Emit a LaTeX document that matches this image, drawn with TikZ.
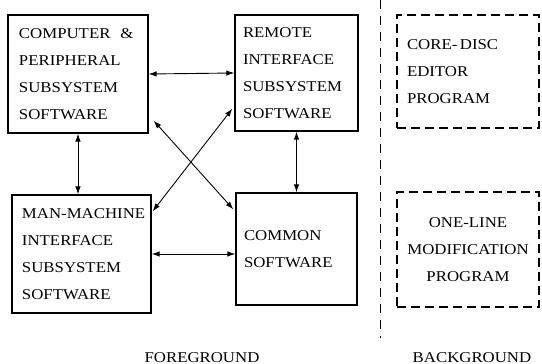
\documentclass[tikz,border=0pt]{standalone}
\usepackage{fontspec}
\setmainfont{Liberation Serif}[FakeStretch=1.12]
\usetikzlibrary{arrows.meta,calc}
\begin{document}
\begin{tikzpicture}[x=1pt,y=-1pt,
  lbl/.style={font=\fontsize{15}{27}\selectfont},
  box/.style={draw,line width=1.3pt,rectangle,inner sep=0pt,align=left,lbl},
  dbox/.style={box,line width=1.1pt,dash pattern=on 9pt off 5pt},
  conn/.style={line width=0.9pt,{Latex[length=8pt,width=5.5pt]}-{Latex[length=8pt,width=5.5pt]}}]
\useasboundingbox (0,0) rectangle (542,364);
\node[box,minimum width=140pt,minimum height=118pt,text width=118pt] (A) at (78,74)
  {\mbox{COMPUTER \ \&}\\PERIPHERAL\\SUBSYSTEM\\SOFTWARE};
\node[box,minimum width=123pt,minimum height=116pt,text width=107pt] (B) at (296.5,73)
  {REMOTE\\INTERFACE\\SUBSYSTEM\\SOFTWARE};
\node[box,minimum width=139pt,minimum height=118pt,text width=119pt] (C) at (81.5,254)
  {\mbox{MAN-MACHINE}\\INTERFACE\\SUBSYSTEM\\SOFTWARE};
\node[box,minimum width=121pt,minimum height=112pt,text width=105pt] (D) at (296.5,249)
  {COMMON\\SOFTWARE};
\node[dbox,minimum width=142pt,minimum height=113pt,text width=122pt] (E) at (468,71.5)
  {\mbox{CORE-\,DISC}\\EDITOR\\PROGRAM};
\node[dbox,minimum width=142pt,minimum height=115pt,align=center] (F) at (468,249.5)
  {ONE-LINE\\MODIFICATION\\PROGRAM};
\coordinate (t) at (380,0);
\coordinate (b) at (380,338);
\draw[line width=0.9pt,dash pattern=on 9pt off 7pt] (t) -- (b);
\node[lbl,anchor=base] (fg) at (202,362) {FOREGROUND};
\node[lbl,anchor=base] (bg) at (472,362) {BACKGROUND};
\draw[conn] (A.east) -- (B.west);
\draw[conn] (A.south) -- (A.south |- C.north);
\draw[conn] (B.south) -- (D.north);
\draw[conn] (C.east) -- (C.east -| D.west);
\draw[conn] ([shift={(5,-13)}]A.south east) -- ([shift={(-2,17)}]D.north west);
\draw[conn] ([shift={(-2,-23)}]B.south west) -- ([shift={(1,17)}]C.north east);
\end{tikzpicture}
\end{document}
